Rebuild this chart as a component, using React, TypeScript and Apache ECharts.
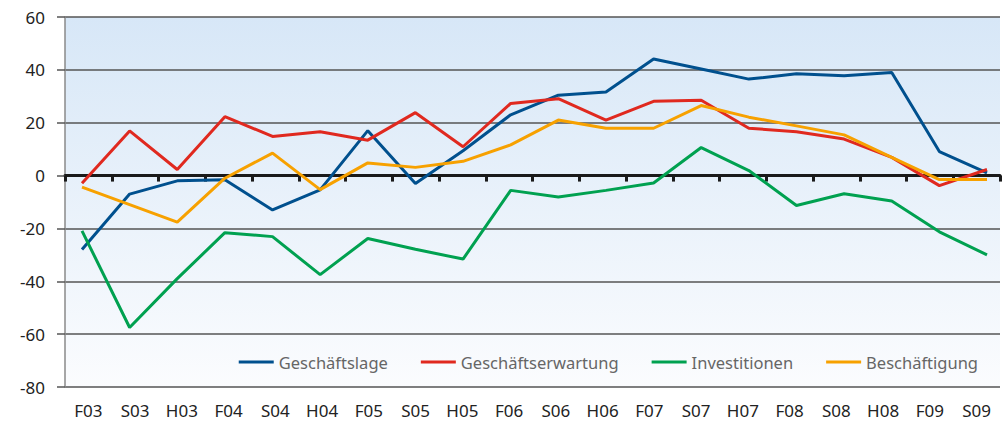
import React, { useEffect, useRef } from "react";
import * as echarts from "echarts";

const categories = ["F03","S03","H03","F04","S04","H04","F05","S05","H05","F06","S06","H06","F07","S07","H07","F08","S08","H08","F09","S09"];
const seriesNames = ["Geschäftslage","Geschäftserwartung","Investitionen","Beschäftigung"];
const geschaeftslage = [-28,-7,-2,-1.6,-13,-5.4,17,-3,9.4,23,30.4,31.6,44.1,40.3,36.5,38.5,37.8,39,9.1,1];
const geschaeftserwartung = [-2.9,16.9,2.3,22.3,14.8,16.6,13.4,23.8,10.9,27.3,29.1,21,28.1,28.5,17.9,16.6,13.8,6.9,-3.8,2.3];
const investitionen = [-20.9,-57.5,-39,-21.6,-23.1,-37.5,-23.8,-27.9,-31.6,-5.6,-8.1,-5.6,-2.8,10.6,1.9,-11.3,-6.9,-9.6,-21.3,-30];
const beschaeftigung = [-4.4,-11,-17.6,-1,8.5,-5.3,4.8,3.1,5.4,11.6,21,17.9,17.9,26.5,22.1,18.8,15.4,6.9,-1.5,-1.5];
const colors = ["#00508e","#e0291f","#00a150","#f7a100"];

export default function App() {
  const ref = useRef<HTMLDivElement>(null);
  useEffect(() => {
    document.body.style.margin = "0";
    const chart = echarts.init(ref.current!, null, { renderer: "svg" });
    const font = "'Noto Sans', sans-serif";
    const gridBase = { top: 17, bottom: 39 };
    const yBase = { type: "value", min: -80, max: 60, interval: 20 };
    chart.setOption({
      animation: false,
      color: colors,
      legend: {
        data: seriesNames,
        right: 28,
        top: 352,
        padding: 0,
        itemGap: 33,
        itemWidth: 35,
        itemHeight: 3,
        icon: "rect",
        textStyle: { color: "#666", fontSize: 16.5, fontFamily: font, lineHeight: 20 },
      },
      grid: [
        {
          left: 65, right: 6, ...gridBase, show: true, borderWidth: 0,
          backgroundColor: new echarts.graphic.LinearGradient(0, 0, 0, 1, [
            { offset: 0, color: "#d7e7f7" },
            { offset: 1, color: "#fbfcfe" },
          ]),
        },
        { left: 82, right: 19, ...gridBase },
        { left: 65, right: 6, ...gridBase },
      ],
      xAxis: [
        {
          gridIndex: 0, type: "category", data: categories, boundaryGap: true,
          axisLine: { show: false }, axisTick: { show: false },
          axisLabel: { color: "#222", fontSize: 17, fontFamily: font, margin: 15 },
        },
        {
          gridIndex: 1, type: "category", data: categories, boundaryGap: false,
          show: false,
        },
        {
          gridIndex: 2, type: "category", data: categories, boundaryGap: true,
          axisLine: { onZero: true, lineStyle: { color: "#1a1a1a", width: 3 } },
          axisTick: { show: true, length: 6, lineStyle: { color: "#1a1a1a", width: 3 } },
          axisLabel: { show: false },
        },
      ],
      yAxis: [
        {
          gridIndex: 0, ...yBase,
          axisLine: { show: true, lineStyle: { color: "#8a8a8a", width: 1.5 } },
          axisTick: { show: true, length: 8, lineStyle: { color: "#555", width: 1.5 } },
          axisLabel: { color: "#222", fontSize: 17, fontFamily: font, margin: 20 },
          splitLine: { show: true, lineStyle: { color: "#555", width: 1.5 } },
        },
        { gridIndex: 1, ...yBase, show: false, splitLine: { show: false } },
        { gridIndex: 2, ...yBase, show: false, splitLine: { show: false } },
      ],
      series: [geschaeftslage, geschaeftserwartung, investitionen, beschaeftigung].map((d, i) => ({
        name: seriesNames[i],
        type: "line",
        xAxisIndex: 1,
        yAxisIndex: 1,
        data: d,
        showSymbol: false,
        symbol: "none",
        lineStyle: { width: 3, color: colors[i] },
        z: 3 + i,
      })),
    });
    return () => chart.dispose();
  }, []);
  return <div ref={ref} style={{ width: 1006, height: 426 }} />;
}
